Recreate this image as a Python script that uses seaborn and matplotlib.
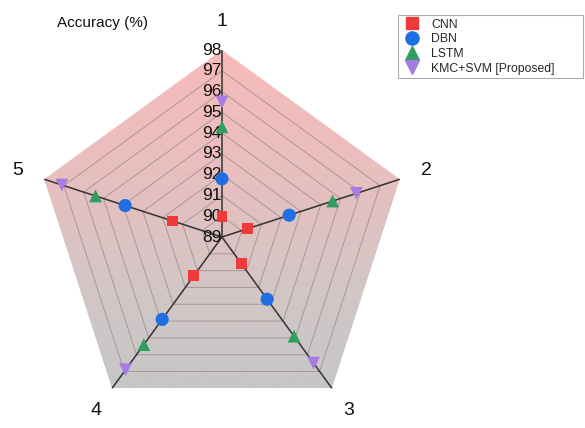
import numpy as np
import pandas as pd
import matplotlib
matplotlib.use("Agg")
import matplotlib.pyplot as plt
import seaborn as sns
from matplotlib.lines import Line2D
from matplotlib.colors import LinearSegmentedColormap

# ---- data ----
axes_labels = ["1", "2", "3", "4", "5"]
models = ["CNN", "DBN", "LSTM", "KMC+SVM [Proposed]"]
cnn = [90.0, 90.3, 90.6, 91.3, 91.5]
dbn = [91.8, 92.4, 92.7, 93.9, 93.9]
lstm = [94.3, 94.6, 94.9, 95.4, 95.4]
kmc = [95.5, 95.8, 96.5, 96.9, 97.1]
r_ticks = [89, 90, 91, 92, 93, 94, 95, 96, 97, 98]

colors = ["#F03A3A", "#1F6FE3", "#2F9E5E", "#A67BE3"]
markers = ["s", "o", "^", "v"]
sizes = [62, 90, 85, 85]

sns.set_theme(style="white")
plt.rcParams["font.family"] = ["Liberation Sans", "DejaVu Sans"]

fig = plt.figure(figsize=(5.85, 4.28), dpi=100)
ax = fig.add_axes([0.0598, 0.0093, 0.6393, 0.8738], projection="polar")
ax.set_theta_offset(np.pi / 2)
ax.set_theta_direction(-1)
ax.set_ylim(r_ticks[0], r_ticks[-1])
ax.grid(False)
ax.spines["polar"].set_visible(False)
ax.set_xticks([])
ax.set_yticks([])
ax.patch.set_alpha(0)

n = len(axes_labels)
theta = np.arange(n) * 2 * np.pi / n
theta_c = np.append(theta, theta[0])

# gradient-filled outer pentagon
outer = ax.fill(theta_c, [r_ticks[-1]] * (n + 1), facecolor="none", edgecolor="none")[0]
cmap = LinearSegmentedColormap.from_list(
    "g", [(0.0, "#C6C6C6"), (0.3, "#D3C6C6"), (0.55, "#E4C0C0"), (1.0, "#F9BABA")])
grad = np.linspace(0, 1, 256).reshape(-1, 1)
bottom = 0.5 - 0.5 * np.cos(np.pi / 5)
im = ax.imshow(grad, cmap=cmap, extent=[0, 1, bottom, 1], origin="lower",
               transform=ax.transAxes, aspect="auto", zorder=0)
im.set_clip_path(outer)
ax.set_ylim(r_ticks[0], r_ticks[-1])

# grid pentagons
for r in r_ticks[1:-1]:
    ax.plot(theta_c, [r] * (n + 1), color="#A89898", lw=0.7, zorder=1)

# spokes
for t in theta:
    ax.plot([t, t], [r_ticks[0], r_ticks[-1]], color="#333333", lw=1.1, zorder=2)

# tick labels along axis 1
for r in r_ticks:
    ax.text(0, r, str(r), ha="right", va="center", fontsize=12.5,
            color="#111111", zorder=5)

# axis labels
for t, lab in zip(theta, axes_labels):
    ax.text(t, 99.35, lab, ha="center", va="center", fontsize=14, color="#111111")

# data points
rows = []
for m, vals in zip(models, [cnn, dbn, lstm, kmc]):
    for t, v in zip(theta, vals):
        rows.append({"model": m, "theta": t, "acc": v})
df = pd.DataFrame(rows)
for m, c, mk, s in zip(models, colors, markers, sizes):
    sub = df[df["model"] == m]
    sns.scatterplot(data=sub, x="theta", y="acc", color=c, marker=mk, s=s,
                    edgecolor="none", ax=ax, zorder=6, legend=False)
ax.set_xlabel("")
ax.set_ylabel("")
ax.set_ylim(r_ticks[0], r_ticks[-1])
ax.set_xticks([])
ax.set_yticks([])

fig.text(0.176, 0.946, "Accuracy (%)", ha="center", va="center", fontsize=11,
         color="#111111")

handles = [Line2D([], [], ls="none", marker=mk, color=c, markersize=ms)
           for c, mk, ms in zip(colors, markers, [8, 9.5, 9.5, 9.5])]
leg = fig.legend(handles, models, loc="upper left",
                 bbox_to_anchor=(0.681, 0.812, 0.315, 0.153), mode="expand",
                 fontsize=8.8, frameon=True, fancybox=False, handlelength=1.6,
                 handletextpad=0.8, labelspacing=0.22, borderpad=0.3,
                 borderaxespad=0)
leg.get_frame().set_edgecolor("#999999")
leg.get_frame().set_linewidth(0.8)

fig.savefig("out.png", dpi=100)
